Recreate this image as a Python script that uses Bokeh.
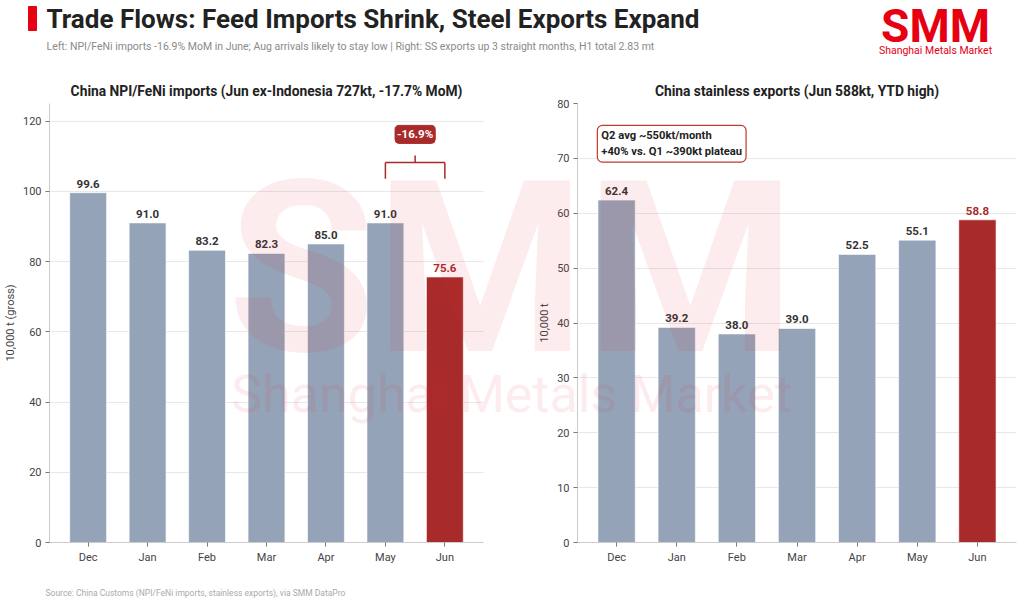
from bokeh.plotting import figure
from bokeh.layouts import column, row
from bokeh.models import ColumnDataSource, Label, Range1d, FactorRange, FixedTicker
from bokeh.core.properties import value
from bokeh.embed import file_html
from bokeh.resources import INLINE

months = ["Dec", "Jan", "Feb", "Mar", "Apr", "May", "Jun"]
npi_imports = [99.6, 91.0, 83.2, 82.3, 85.0, 91.0, 75.6]
ss_exports = [62.4, 39.2, 38.0, 39.0, 52.5, 55.1, 58.8]
highlight = "Jun"
left_ticks = [0, 20, 40, 60, 80, 100, 120]
right_ticks = [0, 10, 20, 30, 40, 50, 60, 70, 80]

title_text = "Trade Flows: Feed Imports Shrink, Steel Exports Expand"
subtitle_text = ("Left: NPI/FeNi imports -16.9% MoM in June; Aug arrivals likely to stay low  |  "
                 "Right: SS exports up 3 straight months, H1 total 2.83 mt")
left_title = "China NPI/FeNi imports (Jun ex-Indonesia 727kt, -17.7% MoM)"
right_title = "China stainless exports (Jun 588kt, YTD high)"
left_ylabel = "10,000 t (gross)"
right_ylabel = "10,000 t"
mom_change = "-16.9%"
q2_note = "Q2 avg ~550kt/month\n+40% vs. Q1 ~390kt plateau"
source_text = "Source: China Customs (NPI/FeNi imports, stainless exports), via SMM DataPro"
brand = "SMM"
brand_name = "Shanghai Metals Market"

FONT = "Roboto"
BAR = "#94a3b8"
HI = "#a82a2a"
RED = "#e60012"

PAGE_W, PAGE_H = 1024, 605
HDR_H, ROW_H = 68, 502
FRAME_TOP, FRAME_H = 35, 439


def bare(width, height):
    p = figure(width=width, height=height, x_range=Range1d(0, width), y_range=Range1d(height, 0),
               output_backend="svg", toolbar_location=None, min_border=0,
               x_axis_location=None, y_axis_location=None)
    p.grid.visible = False
    p.outline_line_color = None
    return p


def bar_panel(vals, y_end, ticks, title, ylabel, width, left, right):
    colors = [HI if m == highlight else BAR for m in months]
    lab_colors = [HI if m == highlight else "#333333" for m in months]
    src = ColumnDataSource(dict(m=months, v=vals, c=colors, lc=lab_colors,
                                t=["%.1f" % v for v in vals]))
    xr = FactorRange(*months, range_padding=0.15, range_padding_units="absolute")
    p = figure(x_range=xr, y_range=Range1d(0, y_end), width=width, height=ROW_H,
               output_backend="svg", toolbar_location=None, title=title,
               min_border_left=left, min_border_right=right,
               min_border_top=FRAME_TOP, min_border_bottom=ROW_H - FRAME_TOP - FRAME_H)
    p.vbar(x="m", top="v", width=0.62, fill_color="c", line_color="white", line_alpha=0.6, source=src)
    p.text(x="m", y="v", text="t", text_color="lc", y_offset=-5, text_align="center",
           text_baseline="bottom", text_font=value(FONT), text_font_style="bold",
           text_font_size="11.5px", source=src)

    p.title.align = "center"
    p.title.text_font = FONT
    p.title.text_font_size = "13.8px"
    p.title.text_color = "#222222"
    p.title.standoff = 10
    p.outline_line_color = None
    p.xgrid.grid_line_color = None
    p.ygrid.grid_line_color = "#e8e8e8"
    p.yaxis.ticker = FixedTicker(ticks=ticks)
    p.yaxis.axis_label = ylabel
    p.yaxis.axis_label_text_font = FONT
    p.yaxis.axis_label_text_font_style = "normal"
    p.yaxis.axis_label_text_font_size = "11px"
    p.yaxis.axis_label_text_color = "#444444"
    p.yaxis.axis_label_standoff = 3
    for ax in (p.xaxis, p.yaxis):
        ax.axis_line_color = "#cccccc"
        ax.major_tick_line_color = "#777777"
        ax.minor_tick_line_color = None
        ax.major_tick_out = 4
        ax.major_tick_in = 0
        ax.major_label_standoff = 4
        ax.major_label_text_font = FONT
        ax.major_label_text_font_size = "11px"
        ax.major_label_text_color = "#444444"
    return p


p1 = bar_panel(npi_imports, 125, left_ticks, left_title, left_ylabel, 520, 45, 37)
p2 = bar_panel(ss_exports, 80, right_ticks, right_title, right_ylabel, 504, 57, 8)

# May -> Jun bracket with the MoM badge
x_may = months.index("May") + 0.5
x_jun = months.index("Jun") + 0.5
x_mid = (x_may + x_jun) / 2
p1.segment(x0=[x_may, x_may, x_jun, x_mid], y0=[108.2, 108.2, 108.2, 108.2],
           x1=[x_jun, x_may, x_jun, x_mid], y1=[108.2, 103.6, 103.6, 110.2],
           line_color=HI, line_width=1.5)
p1.add_layout(Label(x=x_mid, y=116.2, text=mom_change, text_align="center", text_baseline="middle",
                    text_font=FONT, text_font_style="bold", text_font_size="11.5px", text_color="white",
                    background_fill_color=HI, border_line_color=HI, border_radius=4, padding=2))

p2.add_layout(Label(x=0.18, y=76.0, text=q2_note, text_align="left", text_baseline="top",
                    text_font=FONT, text_font_style="bold", text_font_size="11.2px",
                    text_color="#222222", text_line_height=1.2, background_fill_color="white",
                    border_line_color="#c0392b", border_line_width=1.2, border_radius=5, padding=4))

# header
hdr = bare(PAGE_W, HDR_H)
hdr.quad(left=[28], right=[36], top=[6], bottom=[30], color=RED)
hdr.text(x=[46], y=[18], text=[title_text], text_font=value(FONT), text_font_style="bold",
         text_font_size="26px", text_color="#222222", text_baseline="middle")
hdr.text(x=[46], y=[46], text=[subtitle_text], text_font=value(FONT), text_font_size="10.5px",
         text_color="#8a8a8a", text_baseline="middle")
hdr.text(x=[935], y=[25], text=[brand], text_font=value(FONT), text_font_style="bold",
         text_font_size="46px", text_color=RED, text_align="center", text_baseline="middle")
hdr.text(x=[935], y=[50], text=[brand_name], text_font=value(FONT),
         text_font_size="10.5px", text_color=RED, text_align="center", text_baseline="middle")

# footer
ftr = bare(PAGE_W, PAGE_H - HDR_H - ROW_H)
ftr.text(x=[45], y=[22], text=[source_text], text_font=value(FONT), text_font_size="8.5px",
         text_color="#aaaaaa", text_baseline="middle")

# watermark laid over both panels
wm = bare(PAGE_W, PAGE_H)
wm.background_fill_color = None
wm.border_fill_color = None
wm.styles = {"position": "absolute", "left": "0px", "top": "0px", "pointer-events": "none"}
wm.text(x=[511], y=[268], text=[brand], text_font=value(FONT), text_font_style="bold",
        text_font_size="240px", text_color="#e8303a", text_alpha=0.09, text_align="center",
        text_baseline="alphabetic")
wm.text(x=[511], y=[394], text=[brand_name], text_font=value(FONT), text_font_size="52px",
        text_color="#e8303a", text_alpha=0.09, text_align="center", text_baseline="alphabetic")

p = column(hdr, row(p1, p2), ftr, wm)
open("out.html", "w").write(file_html(p, INLINE))
